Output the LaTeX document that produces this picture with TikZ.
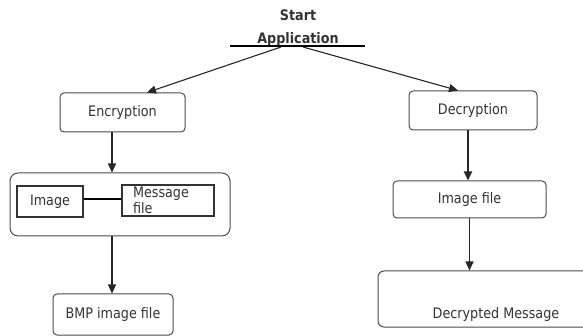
\documentclass[tikz,border=0pt]{standalone}
\usepackage{fontspec}
\setmainfont[FakeStretch=0.88]{DejaVu Sans}
\usetikzlibrary{arrows.meta, positioning, calc}

\begin{document}
\begin{tikzpicture}[x=1pt, y=-1pt,
    font=\fontsize{14.5}{16}\selectfont, text=black!80,
    box/.style={draw=black!70, line width=1pt, rounded corners=4pt, inner sep=0pt},
    flat/.style={draw=black!80, line width=1.6pt, inner sep=0pt},
    arr/.style={draw=black!85, line width=1.1pt, -{Triangle[length=9pt,width=8pt]}}]
  \path[use as bounding box, clip] (0,0) rectangle (583,336);

  % heading
  \node[font=\bfseries\fontsize{14.5}{23}\selectfont, align=center] (app) at (298,28) {Start\\Application};
  \draw[line width=1.2pt] (230,46) -- (365,46);
  \coordinate (appL) at (281,47);
  \coordinate (appR) at (303,47);

  % encryption side
  \node[box, minimum width=125pt, minimum height=39pt] (enc) at (122.5,112.5) {Encryption};
  \node[box, rounded corners=8pt, minimum width=220pt, minimum height=63pt] (grp) at (120,204.5) {};
  \node[flat, minimum width=66pt, minimum height=31pt] (img) at (50,201.5) {Image};
  \node[flat, minimum width=92pt, minimum height=31pt, text width=70pt, inner xsep=11pt, align=left] (msg) at (168,200.5) {Message\\file};
  \node[box, minimum width=120pt, minimum height=41pt] (bmp) at (113,314.5) {BMP image file};

  % decryption side
  \node[box, minimum width=128pt, minimum height=39pt] (dec) at (473,110.5) {Decryption};
  \node[box, minimum width=153pt, minimum height=37pt] (imf) at (469.5,199.5) {Image file};
  \node[box, rounded corners=6pt, minimum width=236pt, text height=44pt, text depth=6pt, inner ysep=3pt] (out) at (496,299) {Decrypted Message};

  \draw[arr] (appL) -- ($(enc.north)+(24.5,0)$);
  \draw[arr] (appR) -- ($(dec.north)+(-15,0)$);
  \draw[arr] ([xshift=-10.5pt]enc.south) -- ([xshift=-10.5pt]enc.south |- grp.north);
  \draw[line width=1.1pt] ([yshift=2.5pt]img.east) -- ([yshift=2.5pt]img.east -| msg.west);
  \draw[arr] ([xshift=-8pt]grp.south) -- ([xshift=-8pt]grp.south |- bmp.north);
  \draw[arr, line width=1.8pt] ([xshift=-5pt]dec.south) -- ([xshift=-5pt]dec.south |- imf.north);
  \draw[arr] (imf.south) -- (imf.south |- out.north);
\end{tikzpicture}
\end{document}
